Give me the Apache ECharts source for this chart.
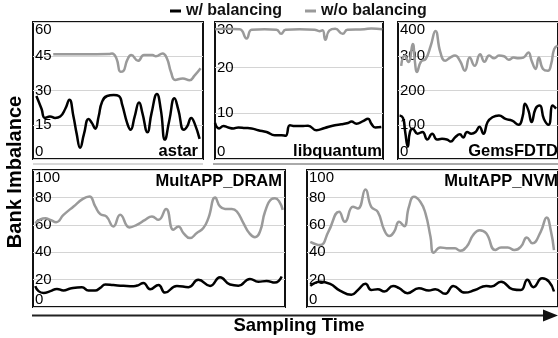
<!DOCTYPE html>
<html>
<head>
<meta charset="utf-8">
<script src="https://cdn.jsdelivr.net/npm/echarts@6/dist/echarts.min.js"></script>
<style>
html, body { margin: 0; padding: 0; background: #fff; }
#chart { width: 558px; height: 338px; }
</style>
</head>
<body>
<div id="chart"></div>
<script>
// sampling time is given as % of each panel's run
var seriesNames = ['w/ balancing', 'w/o balancing'];

var astarTimeWith = [2,5,7,10,13,16,19,21.4,23.8,25.7,27.7,30,32.7,34.7,36.6,38.6,40.6,43.6,47.5,50.5,52.5,55.4,57.4,59.8,62.4,64.4,67.3,69.7,72.9,75.2,77.6,80.2,83.2,85.5,88.7,90.7,93.1,95,98];
var astarWith = [27.6,22,18,18.6,18,18.6,22,26,18.6,11,4.9,11,17.5,15.7,13.3,18.6,25,27.6,28,27.6,23.7,15.7,12.8,18.6,24.7,20,11.7,20,28.5,21.5,8.5,17,26.6,21.5,12.8,14.3,18,15.7,8.8];
var astarTimeWithout = [11.9,30,44.6,46.5,49.1,51.5,53.1,55.4,57.8,61.8,65.3,70.3,72.3,76.2,78.8,81.2,83.6,88.1,92.1,95,98.6];
var astarWithout = [45.9,45.9,46,46.2,44,38.2,38.5,43.3,45.5,43,45.5,45.5,45,46.2,44,38,34.6,35.3,34.5,36.5,39.7];

var libqTimeWith = [0,2.4,5,7.9,10.9,13.9,17.8,21.8,25.7,30.7,35.6,39.6,42,44.6,47.5,51.5,55.4,60.4,65.3,71.3,75.2,79.2,81.2,84.2,88.1,91.1,93.1,95.4,99];
var libqWith = [7.9,6.7,7.2,6.9,6.7,6.9,6.8,6.7,6.3,5.9,5.2,5.2,5.1,7.4,7.2,7.2,7.3,6.3,6.8,7.4,7.6,7.9,8.2,7.7,8.3,8.8,7.7,6.9,7.0];
var libqTimeWithout = [0.1,5.8,14.7,18.8,21.8,29.5,36.6,39.4,42,50.3,59.2,62.2,64,65.7,68,71.6,76,78.8,88.9,93,99.6];
var libqWithout = [28.4,28.5,28.4,26.4,28.3,28.4,28.3,27.4,28.3,28.4,28.3,28.0,28.2,26.1,28.1,28.5,27.4,28.3,28.4,28.6,28.4];

var gemsTimeWith = [1,3.1,4.5,6.1,7.5,9.2,12.2,15.3,18.3,21.4,24.4,27.5,30.5,33,35.6,38.7,40.7,43.2,45.8,48.5,50.9,53.4,56,59,63.1,67.2,71.3,75.4,77.8,79.4,81.5,83.5,86,88.6,91.2,94.1,96.7,98.8];
var gemsWith = [127,120,79,36,79,88,74,79,57,74,57,59,57,51,63,72,63,79,74,79,94,74,108,122,127,117,112,100,122,161,142,108,147,156,117,100,156,147];
var gemsTimeWithout = [2,4.1,6.5,9.2,10.6,11.8,14.3,17.3,20.4,23.4,26.5,29.5,32.6,35.6,38.7,41.8,44.8,47.9,51.3,54,57,60.1,63.1,66.2,69.2,72.3,75.4,78.4,81.5,83.5,86,88,90.6,93.7,95.7,97.6,99.8];
var gemsWithout = [272,302,283,336,283,254,284,292,330,374,311,287,296,302,287,258,296,272,306,284,302,294,302,300,290,296,294,296,311,287,263,296,263,258,277,321,331];

var dramTimeWith = [0.9,2.2,4.2,6.9,9.5,12.1,14.8,19.4,22,24.7,26.7,28.7,31.9,35.9,39.9,41.9,43.8,46.5,49.8,52.4,57.1,61.7,65.6,70.3,74.2,78.2,81.5,86.1,89.4,92.7,96,98.7];
var dramWith = [15.2,11.6,10.3,11.6,13.2,12,13.5,14.5,12,12,14,16.4,16,15.5,15.2,16,17.6,13,16.1,10.5,15.4,14.5,19.8,15.4,21.7,16.4,15.6,20.5,18.4,19,17.8,22.3];
var dramTimeWithout = [0.9,4.9,6.9,9.2,12.1,16.1,19.8,22.4,24.7,26.7,29.1,31.9,34.6,38.3,41.2,44.5,47.2,49.8,52.8,55.7,57.7,59.7,62.3,65,67.6,69.6,72.3,74.2,76.2,78.9,80.9,83.5,85.8,88.1,90.1,92.1,94.7,96,97.7,99.1];
var dramWithout = [61.2,64.8,63.6,61.9,67.2,73.4,78.9,80.6,73.4,67.8,66.1,58.8,67.3,58.1,60,63.6,66.1,63.6,71.6,56.4,58.8,54,50.3,54,57.6,64.9,79.9,73.4,71.6,71.6,69.7,61.2,54,51,55.2,69.7,78.9,79.4,77,70.9];

var nvmTimeWith = [1.3,5.2,9.2,13.1,17.7,20.3,23.3,25.6,28.2,30.8,34.3,36.7,40,44.6,48.5,51.1,55.1,58.3,62.9,66.9,71.4,73.4,77.3,81.9,85.2,87.8,90.2,93.7,96.4,98.4];
var nvmWith = [15.4,18.5,16.9,12,8.9,12.4,16.9,12.4,13,11.3,15.4,13.7,10.1,13.7,12,13,9.6,15.4,10.5,12.4,15.4,14.9,18.5,13,12.4,19.8,14.5,20.9,18.5,11.3];
var nvmTimeWithout = [1.3,5.2,8.5,12.8,15.1,18.3,20.3,23.3,25.6,28.2,30.8,32.8,34.7,36.7,38.7,40.6,42.6,45.2,47.2,49.2,50.5,53.1,56.4,59,61,63.6,66.2,68.8,71.4,75,77.3,80,82.6,85.2,87.6,89.8,93.1,95.5,97.1,98.4];
var nvmWithout = [47.6,45.2,54.9,69.5,62.2,73.1,71.9,85.7,73.1,69.5,56.1,51.8,54.9,62.2,59,73.1,80.4,76.7,68.3,51.3,39.6,43.5,42.8,42.8,41.1,44,52.5,56.1,53.8,41.6,43.5,43.5,41.6,44,50.8,46.5,54.9,65.4,56.1,41.6];

var FONT = 'Liberation Sans, Arial, sans-serif';

// panel boxes and axis ranges
var panels = [
	{ name: 'astar', left: 33, top: 22, width: 170, height: 137, max: 60, step: 15,
		tw: astarTimeWith, w: astarWith, two: astarTimeWithout, wo: astarWithout, tRight: 360, tTop: 142.5 },
	{ name: 'libquantum', left: 215, top: 22, width: 168, height: 137, max: 30, step: 10,
		tw: libqTimeWith, w: libqWith, two: libqTimeWithout, wo: libqWithout, tRight: 176, tTop: 142.5 },
	{ name: 'GemsFDTD', left: 398, top: 22, width: 164, height: 137, max: 400, step: 100,
		tw: gemsTimeWith, w: gemsWith, two: gemsTimeWithout, wo: gemsWithout, tRight: 0, tTop: 142.5 },
	{ name: 'MultAPP_DRAM', left: 33, top: 170, width: 252, height: 137, max: 100, step: 20,
		tw: dramTimeWith, w: dramWith, two: dramTimeWithout, wo: dramWithout, tRight: 276, tTop: 172.5 },
	{ name: 'MultAPP_NVM', left: 307, top: 170, width: 254, height: 137, max: 100, step: 20,
		tw: nvmTimeWith, w: nvmWith, two: nvmTimeWithout, wo: nvmWithout, tRight: 0, tTop: 172.5 }
];

function pairs(t, v) {
	var out = [];
	for (var i = 0; i < t.length; i++) out.push([t[i], v[i]]);
	return out;
}

var grids = [], xAxes = [], yAxes = [], series = [], titles = [];

panels.forEach(function(p, i) {
	grids.push({
		left: p.left, top: p.top, width: p.width, height: p.height,
		show: true, borderColor: '#111', borderWidth: 2, backgroundColor: 'transparent'
	});
	xAxes.push({
		gridIndex: i, type: 'value', min: 0, max: 100, show: false
	});
	yAxes.push({
		gridIndex: i, type: 'value', min: 0, max: p.max, interval: p.step,
		axisLine: { show: false },
		axisTick: { show: false },
		splitLine: { show: true, lineStyle: { color: '#d4d4d4', width: 1 } },
		axisLabel: {
			inside: true, margin: 2, color: '#000', fontSize: 15, fontFamily: FONT,
			verticalAlignMinLabel: 'bottom', verticalAlignMaxLabel: 'top'
		}
	});
	series.push({
		name: seriesNames[1], type: 'line', xAxisIndex: i, yAxisIndex: i,
		data: pairs(p.two, p.wo), smooth: 0.5, showSymbol: false, symbol: 'none',
		color: '#9a9a9a', lineStyle: { color: '#9a9a9a', width: 2.5 }
	});
	series.push({
		name: seriesNames[0], type: 'line', xAxisIndex: i, yAxisIndex: i,
		data: pairs(p.tw, p.w), smooth: 0.5, showSymbol: false, symbol: 'none',
		color: '#000', lineStyle: { color: '#000', width: 2.5 }
	});
	titles.push({
		text: p.name, right: p.tRight, top: p.tTop, padding: 0,
		textStyle: { fontSize: 16.5, fontWeight: 'bold', color: '#000', fontFamily: FONT }
	});
});

var chart = echarts.init(document.getElementById('chart'));
chart.setOption({
	animation: false,
	backgroundColor: '#fff',
	title: titles,
	legend: {
		data: seriesNames,
		left: 170, top: 3, padding: 0,
		icon: 'rect', itemWidth: 11, itemHeight: 3, itemGap: 23,
		textStyle: { fontSize: 16, fontWeight: 'bold', color: '#111', fontFamily: FONT }
	},
	grid: grids,
	xAxis: xAxes,
	yAxis: yAxes,
	series: series,
	graphic: [
		{ type: 'line', shape: { x1: 33, y1: 164, x2: 203, y2: 164 }, style: { stroke: '#d8d8d8', lineWidth: 2 } },
		{ type: 'line', shape: { x1: 213, y1: 164, x2: 558, y2: 164 }, style: { stroke: '#aaa', lineWidth: 2 } },
		{ type: 'line', shape: { x1: 32, y1: 315.5, x2: 546, y2: 315.5 }, style: { stroke: '#222', lineWidth: 2 } },
		{ type: 'polygon', shape: { points: [[543, 309.5], [558, 315.5], [543, 321.5]] }, style: { fill: '#111' } },
		{ type: 'text', x: 15, y: 172, rotation: Math.PI / 2,
			style: { text: 'Bank Imbalance', font: 'bold 20px ' + FONT, fill: '#000', align: 'center', verticalAlign: 'middle' } },
		{ type: 'text', x: 299, y: 326,
			style: { text: 'Sampling Time', font: 'bold 18.5px ' + FONT, fill: '#000', align: 'center', verticalAlign: 'middle' } }
	]
});
</script>
</body>
</html>
